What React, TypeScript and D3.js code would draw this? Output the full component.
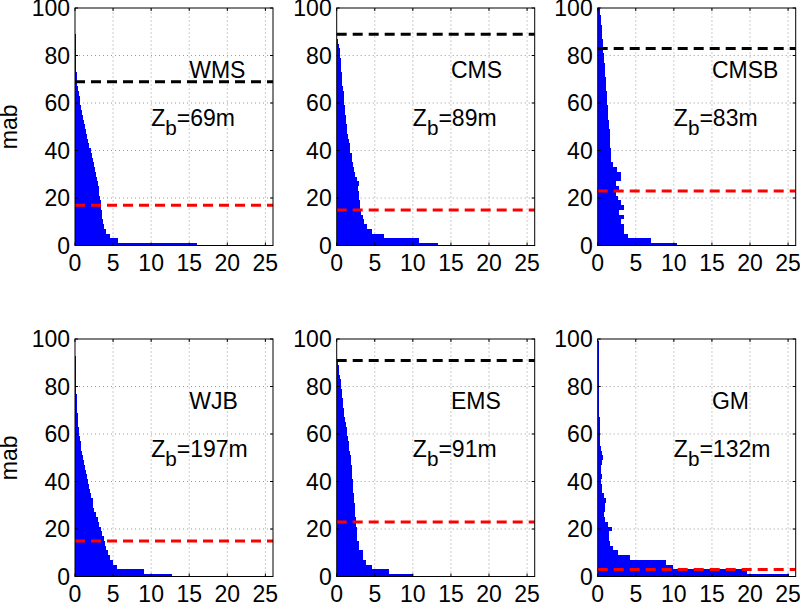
import React from 'react';
import * as d3 from 'd3';

// bin centres (metres above bottom), 2 m bins
const mabBins = [0, 2, 4, 6, 8, 10, 12, 14, 16, 18, 20, 22, 24, 26, 28, 30, 32, 34, 36, 38, 40, 42, 44, 46, 48, 50,
  52, 54, 56, 58, 60, 62, 64, 66, 68, 70, 72, 74, 76, 78, 80, 82, 84, 86, 88, 90, 92, 94, 96, 98, 100];

const xTicks = [0, 5, 10, 15, 20, 25];
const yTicks = [0, 20, 40, 60, 80, 100];

const sites = ['WMS', 'CMS', 'CMSB', 'WJB', 'EMS', 'GM'];
const zbValues = [69, 89, 83, 197, 91, 132];
const redLevels = [17, 15, 23, 15, 23, 3];

const wms = [16, 5.7, 4.6, 4.1, 3.8, 3.7, 3.6, 3.5, 3.45, 3.4, 3.3, 3.2, 3.1, 3.0, 2.9, 2.8, 2.65, 2.5, 2.35, 2.2, 2.05,
  1.9, 1.75, 1.6, 1.45, 1.3, 1.15, 1.0, 0.9, 0.8, 0.7, 0.6, 0.5, 0.4, 0.3, 0.25, 0.2, 0.18, 0.15, 0.12, 0.1,
  0.1, 0.08, 0.08, 0.07, 0.06, 0.05, 0.05, 0.04, 0.04, 0.03];
const cms = [13.3, 10.8, 6.2, 4.6, 4.0, 3.6, 3.4, 3.25, 3.1, 3.0, 2.95, 2.9, 2.8, 2.9, 2.6, 2.45, 2.3, 2.2, 2.05, 1.95, 1.8,
  1.7, 1.6, 1.5, 1.4, 1.3, 1.25, 1.2, 1.15, 1.1, 1.0, 0.95, 0.9, 0.8, 0.75, 0.7, 0.65, 0.6, 0.55, 0.5, 0.45,
  0.38, 0.3, 0.2, 0.1, 0.05, 0.02, 0.02, 0.02, 0.02, 0.02];
const cmsb = [10.4, 7.0, 4.0, 3.5, 3.5, 3.0, 3.4, 2.8, 3.4, 3.0, 2.7, 2.4, 2.8, 2.4, 3.0, 3.0, 2.5, 2.0, 1.8, 1.75, 1.7,
  1.68, 1.65, 1.6, 1.55, 1.5, 1.45, 1.4, 1.35, 1.3, 1.28, 1.22, 1.18, 1.12, 1.08, 1.03, 1.0, 0.95, 0.9, 0.88, 0.85,
  0.75, 0.7, 0.7, 0.6, 0.55, 0.5, 0.45, 0.4, 0.35, 0.3];
const wjb = [12.7, 9.0, 5.5, 5.0, 4.6, 4.3, 4.1, 4.0, 3.8, 3.6, 3.4, 3.2, 3.0, 2.8, 2.55, 2.4, 2.3, 2.15, 2.0, 1.8, 1.65,
  1.55, 1.4, 1.3, 1.15, 1.05, 0.95, 0.85, 0.75, 0.65, 0.58, 0.5, 0.45, 0.4, 0.35, 0.3, 0.27, 0.24, 0.2, 0.18, 0.15,
  0.12, 0.1, 0.08, 0.08, 0.07, 0.07, 0.06, 0.06, 0.05, 0.05];
const ems = [10.0, 6.9, 4.6, 3.8, 3.5, 3.5, 2.9, 2.9, 2.7, 2.65, 2.6, 2.55, 2.5, 2.45, 2.4, 2.35, 2.3, 2.25, 2.2, 2.15, 2.1,
  2.05, 2.0, 1.95, 1.9, 1.85, 1.75, 1.65, 1.55, 1.5, 1.4, 1.3, 1.2, 1.1, 1.0, 0.9, 0.85, 0.8, 0.7, 0.65, 0.6,
  0.5, 0.45, 0.35, 0.25, 0.15, 0.05, 0.03, 0.03, 0.03, 0.03];
const gm = [25.1, 19.6, 9.9, 9.0, 4.3, 2.6, 2.0, 1.6, 1.5, 1.45, 1.9, 1.3, 0.9, 0.8, 1.0, 0.9, 1.05, 0.8, 0.6, 0.55, 0.45,
  0.5, 0.45, 0.4, 0.6, 0.65, 0.55, 0.4, 0.35, 0.3, 0.3, 0.28, 0.25, 0.25, 0.22, 0.22, 0.2, 0.2, 0.2, 0.18, 0.18,
  0.2, 0.18, 0.15, 0.15, 0.15, 0.15, 0.2, 0.15, 0.12, 0.1];

const seriesList = [wms, cms, cmsb, wjb, ems, gm];

const FONT = '"Liberation Sans", Arial, Helvetica, sans-serif';
const FS = 23;
const colLefts = [75, 336.7, 597.7];
const rowTops = [8, 339];
const PW = 198;
const PH = 237.5;

function Panel({ idx }: { idx: number }) {
  const col = idx % 3;
  const row = Math.floor(idx / 3);
  const left = colLefts[col];
  const top = rowTops[row];
  const x = d3.scaleLinear().domain([0, 26]).range([left, left + PW]);
  const y = d3.scaleLinear().domain([0, 100]).range([top + PH, top]);
  const vals = seriesList[idx];
  const zb = zbValues[idx];
  const tickLen = 3;
  return (
    <g>
      {xTicks.filter(t => t > 0).map(t => (
        <line key={'gx' + t} x1={x(t)} x2={x(t)} y1={y(0)} y2={y(100)} stroke="#808080" strokeWidth={0.8} strokeDasharray="1,3" />
      ))}
      {yTicks.filter(t => t > 0 && t < 100).map(t => (
        <line key={'gy' + t} x1={x(0)} x2={x(26)} y1={y(t)} y2={y(t)} stroke="#808080" strokeWidth={0.8} strokeDasharray="1,3" />
      ))}
      {mabBins.map((c, i) => {
        const y0 = Math.max(0, c - 1);
        const y1 = Math.min(100, c + 1);
        const v = Math.min(vals[i], 26);
        return (
          <rect key={'b' + i} x={x(0)} y={y(y1)} width={Math.max(0, x(v) - x(0))} height={y(y0) - y(y1)} fill="#0000ff" shapeRendering="crispEdges" />
        );
      })}
      {zb <= 100 && (
        <line x1={x(0)} x2={x(26)} y1={y(zb)} y2={y(zb)} stroke="#000" strokeWidth={3} strokeDasharray="10,6" />
      )}
      <line x1={x(0)} x2={x(26)} y1={y(redLevels[idx])} y2={y(redLevels[idx])} stroke="#ff0000" strokeWidth={3} strokeDasharray="10,6" />
      <rect x={x(0)} y={y(100)} width={PW} height={PH} fill="none" stroke="#000" strokeWidth={1} />
      {xTicks.map(t => (
        <g key={'tx' + t}>
          <line x1={x(t)} x2={x(t)} y1={y(0)} y2={y(0) - tickLen} stroke="#000" />
          <line x1={x(t)} x2={x(t)} y1={y(100)} y2={y(100) + tickLen} stroke="#000" />
          <text x={x(t)} y={y(0) + 25} textAnchor="middle" fontFamily={FONT} fontSize={FS} fill="#000">{t}</text>
        </g>
      ))}
      {yTicks.map(t => (
        <g key={'ty' + t}>
          <line x1={x(0)} x2={x(0) + tickLen} y1={y(t)} y2={y(t)} stroke="#000" />
          <line x1={x(26)} x2={x(26) - tickLen} y1={y(t)} y2={y(t)} stroke="#000" />
          <text x={x(0) - 5} y={y(t)} dy="0.36em" textAnchor="end" fontFamily={FONT} fontSize={FS} fill="#000">{t}</text>
        </g>
      ))}
      <text x={x(15)} y={y(74)} dy="0.36em" fontFamily={FONT} fontSize={FS} fill="#000">{sites[idx]}</text>
      <text x={x(10)} y={y(54)} dy="0.36em" fontFamily={FONT} fontSize={FS} fill="#000">
        Z<tspan dy="9" fontSize={FS * 0.9}>b</tspan><tspan dy="-9">={zb}m</tspan>
      </text>
      {col === 0 && (
        <text transform={`translate(17,${top + PH / 2}) rotate(-90)`} textAnchor="middle" fontFamily={FONT} fontSize={FS} fill="#000">mab</text>
      )}
    </g>
  );
}

export default function App() {
  return (
    <svg width={800} height={604} style={{ position: 'absolute', left: 0, top: 0, background: '#fff' }}>
      <rect x={0} y={0} width={800} height={604} fill="#fff" />
      {sites.map((s, i) => <Panel key={s} idx={i} />)}
    </svg>
  );
}
